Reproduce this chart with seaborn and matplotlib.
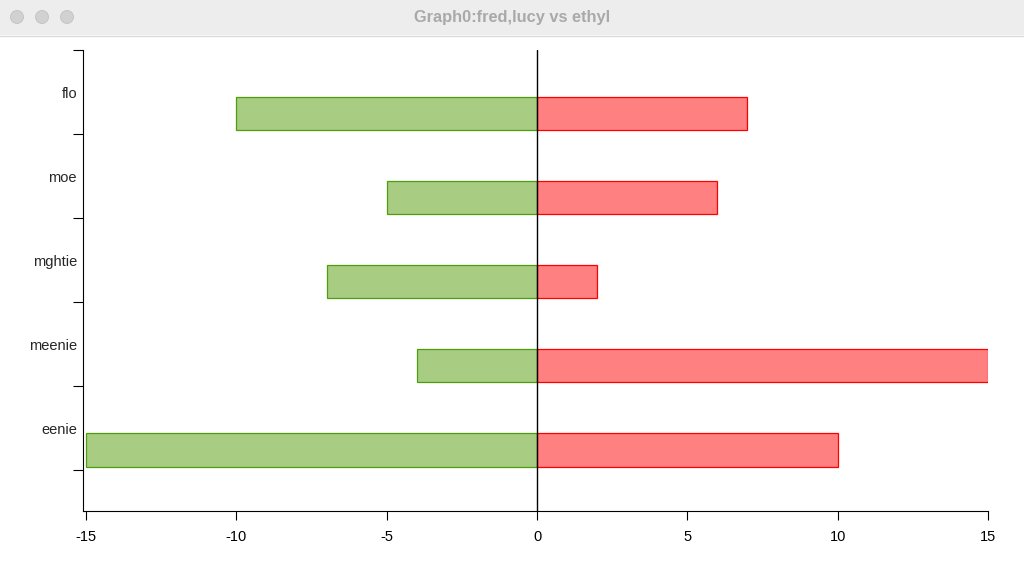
import matplotlib
matplotlib.use("Agg")
import matplotlib.pyplot as plt
import matplotlib.patches as mpatches
import seaborn as sns
import pandas as pd
import numpy as np

categories = ["flo", "moe", "mghtie", "meenie", "eenie"]
fred = [-10, -5, -7, -4, -15]
lucy = [7, 6, 2, 15, 10]
xticks = [-15, -10, -5, 0, 5, 10, 15]
window_title = "Graph0:fred,lucy vs ethyl"

sns.set_style("ticks")
plt.rcParams["font.family"] = ["Liberation Sans", "DejaVu Sans"]
plt.rcParams["axes.unicode_minus"] = False

df = pd.DataFrame({"name": categories, "fred": fred, "lucy": lucy})

W, H = 1024, 566
fig = plt.figure(figsize=(W / 100, H / 100), dpi=100)
fig.patch.set_facecolor("white")

# window title bar
fig.add_artist(mpatches.Rectangle((0, 1 - 35 / H), 1, 35 / H, transform=fig.transFigure,
                                  facecolor="#ededed", edgecolor="none", zorder=0))
fig.add_artist(plt.Line2D([0, 1], [1 - 35.5 / H, 1 - 35.5 / H], transform=fig.transFigure,
                          color="#d9d9d9", lw=1))
for cx in (17, 42, 67):
    fig.add_artist(mpatches.Ellipse((cx / W, 1 - 17 / H), 13 / W, 13 / H, transform=fig.transFigure,
                                    facecolor="#d1d1d1", edgecolor="#c2c2c2", lw=0.6))
fig.text(0.5, 1 - 17.5 / H, window_title, ha="center", va="center", fontsize=11.8,
         fontweight="bold", color="#a9a9a9")

ax = fig.add_axes([83 / W, 55 / H, (988 - 83) / W, (511 - 50) / H])

bh = 0.395
sns.barplot(data=df, x="fred", y="name", order=categories, orient="h", ax=ax,
            color="#a8cd82", edgecolor="#4f9c0c", linewidth=0.9, saturation=1, width=bh)
sns.barplot(data=df, x="lucy", y="name", order=categories, orient="h", ax=ax,
            color="#ff8080", edgecolor="#ff0000", linewidth=0.9, saturation=1, width=bh)

ax.axvline(0, color="black", lw=1, zorder=5)

ax.set_xlim(-15.1, 15)
ax.set_ylim(len(categories) - 1 + 0.726, -0.756)
ax.set_xticks(xticks)
ax.set_xticklabels([str(v) for v in xticks], fontsize=10.5)

n = len(categories)
ax.set_yticks([i - 0.756 for i in range(n + 1)])
ax.set_yticklabels([""] * (n + 1))
ax.set_yticks([i - 0.256 for i in range(n)], minor=True)
ax.set_yticklabels(categories, minor=True, fontsize=10.5)
ax.tick_params(axis="y", which="major", length=7.2, width=0.8, color="black")
ax.tick_params(axis="y", which="minor", length=0, pad=4.3)
ax.tick_params(axis="x", length=6.8, width=0.8, color="black", pad=7, labelcolor="black")

ax.set_xlabel("")
ax.set_ylabel("")
for s in ("top", "right"):
    ax.spines[s].set_visible(False)
for s in ("left", "bottom"):
    ax.spines[s].set_color("black")
    ax.spines[s].set_linewidth(0.8)

fig.savefig("out.png", dpi=100)
